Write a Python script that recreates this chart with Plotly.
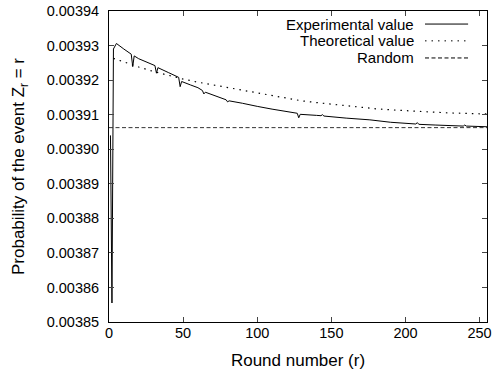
import plotly.graph_objects as go

exp_r = [1, 2, 3, 4, 5, 10, 15, 16, 17, 20, 25, 31, 32, 33, 40, 47, 48, 49, 55, 60, 63, 64, 65,
         70, 79, 80, 81, 90, 96, 100, 110, 115, 120, 127, 128, 129, 140, 143, 144, 145, 160,
         176, 190, 200, 207, 208, 209, 220, 239, 240, 241, 255]
exp_p = [0.0039040, 0.0038555, 0.0039290, 0.0039300, 0.0039306, 0.0039290, 0.0039275, 0.0039239,
         0.0039270, 0.0039262, 0.0039252, 0.0039242, 0.0039220, 0.0039236, 0.0039222, 0.0039208,
         0.0039181, 0.0039196, 0.0039186, 0.0039178, 0.0039170, 0.0039160, 0.0039165,
         0.0039157, 0.0039143, 0.0039137, 0.0039140, 0.0039133, 0.0039127, 0.0039124,
         0.0039116, 0.0039113, 0.0039108, 0.0039104, 0.0039091, 0.0039101, 0.0039098,
         0.0039097, 0.0039100, 0.0039096, 0.0039090, 0.0039085, 0.0039078, 0.0039075,
         0.0039073, 0.0039077, 0.0039072, 0.0039070, 0.0039067, 0.0039070, 0.0039067,
         0.0039065]

# Theoretical value
theo_r = [3, 10, 20, 30, 40, 50, 60, 70, 80, 90, 100, 110, 120, 130, 140, 150, 160, 170, 180,
          190, 200, 210, 220, 230, 240, 255]
theo_p = [0.0039263, 0.0039252, 0.0039238, 0.0039225, 0.0039213, 0.0039203, 0.0039194,
          0.0039186, 0.0039178, 0.0039170, 0.0039162, 0.0039154, 0.0039146, 0.0039140,
          0.0039135, 0.0039130, 0.0039125, 0.0039121, 0.0039117, 0.0039114, 0.0039111,
          0.0039109, 0.0039107, 0.0039105, 0.0039104, 0.0039102]

# Random
rand_r = [0, 255]
rand_p = [1 / 256, 1 / 256]

y_ticks = [0.00385, 0.00386, 0.00387, 0.00388, 0.00389, 0.00390, 0.00391, 0.00392, 0.00393, 0.00394]
x_ticks = [0, 50, 100, 150, 200, 250]

legend_names = ["Experimental value", "Theoretical value", "Random"]
DOT = "1.5px,5px"
DASH = "4px,2.5px"
legend_dash = ["solid", DOT, DASH]

FONT = "Liberation Sans, Arial, Helvetica, sans-serif"
FS = 14.5

fig = go.Figure()
fig.add_trace(go.Scatter(x=exp_r, y=exp_p, mode="lines",
                         line=dict(color="black", width=1), name=legend_names[0]))
fig.add_trace(go.Scatter(x=theo_r, y=theo_p, mode="lines",
                         line=dict(color="black", width=1.2, dash=DOT), name=legend_names[1]))
fig.add_trace(go.Scatter(x=rand_r, y=rand_p, mode="lines",
                         line=dict(color="#333", width=1, dash=DASH), name=legend_names[2]))

# Manual gnuplot-style legend (text right-aligned, sample on the right)
rows_y = [0.958, 0.904, 0.849]
for name, dsh, yy in zip(legend_names, legend_dash, rows_y):
    fig.add_annotation(x=0.812, y=yy, xref="paper", yref="paper", text=name,
                       showarrow=False, xanchor="right", yanchor="middle",
                       font=dict(family=FONT, size=15, color="black"))
    fig.add_shape(type="line", xref="paper", yref="paper", x0=0.836, x1=0.950, y0=yy, y1=yy,
                  line=dict(color="black", width=1, dash=dsh))

fig.update_layout(
    width=493, height=370,
    margin=dict(l=109, r=6, t=11, b=48),
    paper_bgcolor="white", plot_bgcolor="white",
    showlegend=False,
    font=dict(family=FONT, size=FS, color="black"),
    xaxis=dict(range=[0, 255], tickvals=x_ticks, ticks="inside", ticklen=5,
               showline=True, linecolor="black", linewidth=1, mirror="ticks",
               showgrid=False, zeroline=False, automargin=False, ticklabelstandoff=-2,
               title=dict(text="Round number (r)", standoff=15)),
    yaxis=dict(range=[0.00385, 0.00394], tickvals=y_ticks, tickformat=".5f",
               ticks="inside", ticklen=5,
               showline=True, linecolor="black", linewidth=1, mirror="ticks",
               showgrid=False, zeroline=False, ticklabelstandoff=6, automargin=False,
               title=dict(text="Probability of the event Z<sub>r</sub> = r", standoff=17)),
)

fig.write_html("out.html", config={"displayModeBar": False},
               post_script="document.body.style.margin='0';")
